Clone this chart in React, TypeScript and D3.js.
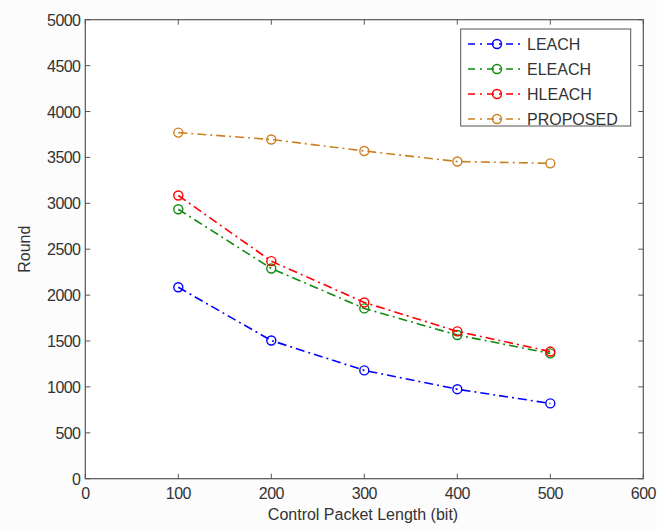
import React from "react";
import * as d3 from "d3";

const xValues = [100, 200, 300, 400, 500];
const leach = [2085, 1505, 1180, 975, 820];
const eleach = [2935, 2290, 1855, 1565, 1365];
const hleach = [3085, 2370, 1920, 1605, 1385];
const proposed = [3770, 3695, 3570, 3455, 3435];
const seriesNames = ["LEACH", "ELEACH", "HLEACH", "PROPOSED"];
const seriesColors = ["#0000ff", "#118a11", "#ff0000", "#cc8022"];
const xTicks = [0, 100, 200, 300, 400, 500, 600];
const yTicks = [0, 500, 1000, 1500, 2000, 2500, 3000, 3500, 4000, 4500, 5000];

export default function App() {
  const W = 657, H = 531;
  const left = 85.3, right = 643.3, top = 19.7, bottom = 478.7;
  const x = d3.scaleLinear().domain([0, 600]).range([left, right]);
  const y = d3.scaleLinear().domain([0, 5000]).range([bottom, top]);
  const data = [leach, eleach, hleach, proposed];
  const line = d3.line<number>().x((_, i) => x(xValues[i])).y((d) => y(d));
  const dash = "9,4,2,4";
  const font = "Arial, 'Liberation Sans', sans-serif";
  const fs = 16;
  const tickLen = 5;
  return (
    <svg width={W} height={H} style={{ position: "absolute", left: 0, top: 0 }}>
      <rect x={0} y={0} width={W} height={H} fill="#fcfcfc" />
      <rect x={left} y={top} width={right - left} height={bottom - top} fill="#ffffff" />
      <rect x={left} y={top} width={right - left} height={bottom - top} fill="none" stroke="#555" strokeWidth={1.2} />
      {xTicks.map((t) => (
        <g key={"x" + t}>
          <line x1={x(t)} x2={x(t)} y1={bottom} y2={bottom - tickLen} stroke="#555" />
          <line x1={x(t)} x2={x(t)} y1={top} y2={top + tickLen} stroke="#555" />
          <text x={x(t)} y={499} textAnchor="middle" fontSize={fs} fontFamily={font} fill="#333" letterSpacing={-0.6}>{t}</text>
        </g>
      ))}
      {yTicks.map((t) => (
        <g key={"y" + t}>
          <line x1={left} x2={left + tickLen} y1={y(t)} y2={y(t)} stroke="#555" />
          <line x1={right} x2={right - tickLen} y1={y(t)} y2={y(t)} stroke="#555" />
          <text x={left - 5} y={y(t) + 6} textAnchor="end" fontSize={fs} fontFamily={font} fill="#333" letterSpacing={-0.6}>{t}</text>
        </g>
      ))}
      <text x={363} y={520} textAnchor="middle" fontSize={fs} fontFamily={font} fill="#333">Control Packet Length (bit)</text>
      <text transform={`translate(30,${(top + bottom) / 2}) rotate(-90)`} textAnchor="middle" fontSize={fs} fontFamily={font} fill="#333">Round</text>
      {data.map((s, k) => (
        <g key={"s" + k}>
          <path d={line(s) || ""} fill="none" stroke={seriesColors[k]} strokeWidth={1.6} strokeDasharray={dash} />
          {s.map((v, i) => (
            <circle key={i} cx={x(xValues[i])} cy={y(v)} r={4.5} fill="none" stroke={seriesColors[k]} strokeWidth={1.4} />
          ))}
        </g>
      ))}
      <rect x={460.7} y={29} width={170} height={97} fill="#fff" stroke="#555" strokeWidth={1} />
      {seriesNames.map((n, k) => {
        const ly = 44 + k * 25;
        return (
          <g key={"l" + k}>
            <line x1={468} x2={522} y1={ly} y2={ly} stroke={seriesColors[k]} strokeWidth={1.6} strokeDasharray="7,5,2,5" />
            <circle cx={497} cy={ly} r={4.5} fill="none" stroke={seriesColors[k]} strokeWidth={1.4} />
            <text x={527} y={ly + 6} fontSize={fs} fontFamily={font} fill="#333">{n}</text>
          </g>
        );
      })}
    </svg>
  );
}
